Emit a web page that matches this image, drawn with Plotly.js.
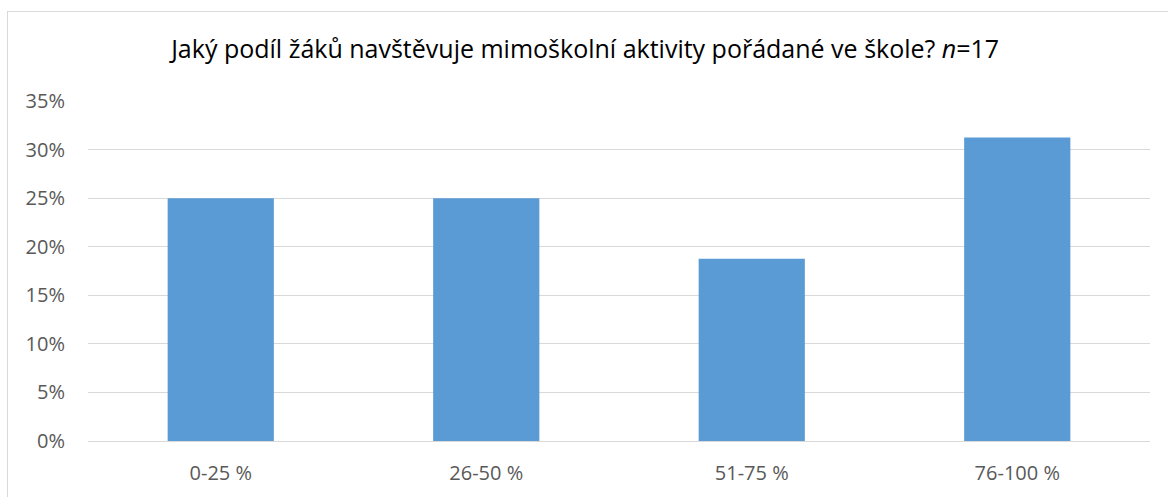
<!DOCTYPE html>
<html>
<head>
<meta charset="utf-8">
<script src="https://cdn.plot.ly/plotly-3.0.1.min.js"></script>
<style>
  html, body { margin: 0; padding: 0; background: #fff; }
  #wrap { position: relative; width: 1168px; height: 497px; overflow: hidden; }
  #frame { position: absolute; left: 7px; top: 11px; width: 1180px; height: 520px; border: 1px solid #d9d9d9; box-sizing: border-box; }
  #chart { position: absolute; left: 0; top: 0; width: 1168px; height: 497px; }
</style>
</head>
<body>
<div id="wrap">
  <div id="frame"></div>
  <div id="chart"></div>
</div>
<script>
const categories = ["0-25 %", "26-50 %", "51-75 %", "76-100 %"];
const shares = [0.25, 0.25, 0.1875, 0.3125];
const yTickValues = [0, 0.05, 0.10, 0.15, 0.20, 0.25, 0.30, 0.35];
const yTickLabels = ["0%", "5%", "10%", "15%", "20%", "25%", "30%", "35%"];
const titleText = "Jaký podíl žáků navštěvuje mimoškolní aktivity pořádané ve škole? <i>n</i>=17";

const fontFamily = "Open Sans, Liberation Sans, sans-serif";

Plotly.newPlot("chart", [{
  type: "bar",
  x: categories,
  y: shares,
  width: 0.4,
  marker: { color: "#5B9BD5" },
  hoverinfo: "x+y"
}], {
  width: 1168,
  height: 497,
  paper_bgcolor: "rgba(0,0,0,0)",
  plot_bgcolor: "rgba(0,0,0,0)",
  margin: { l: 88, r: 18, t: 101, b: 56 },
  showlegend: false,
  title: {
    text: titleText,
    x: 0.501, xanchor: "center",
    y: 0.9, yanchor: "middle", yref: "container",
    font: { family: fontFamily, size: 25, color: "#000000" }
  },
  xaxis: {
    type: "category",
    showgrid: false,
    showline: true,
    linecolor: "#d9d9d9",
    linewidth: 1,
    ticks: "",
    tickfont: { family: fontFamily, size: 20, color: "#595959" },
    ticklabelstandoff: 14
  },
  yaxis: {
    range: [0, 0.35],
    tickvals: yTickValues,
    ticktext: yTickLabels,
    showgrid: true,
    gridcolor: "#d9d9d9",
    gridwidth: 1,
    zeroline: false,
    showline: false,
    ticks: "",
    tickfont: { family: fontFamily, size: 20, color: "#595959" },
    ticklabelstandoff: 22
  }
}, { displayModeBar: false, staticPlot: false });
</script>
</body>
</html>
